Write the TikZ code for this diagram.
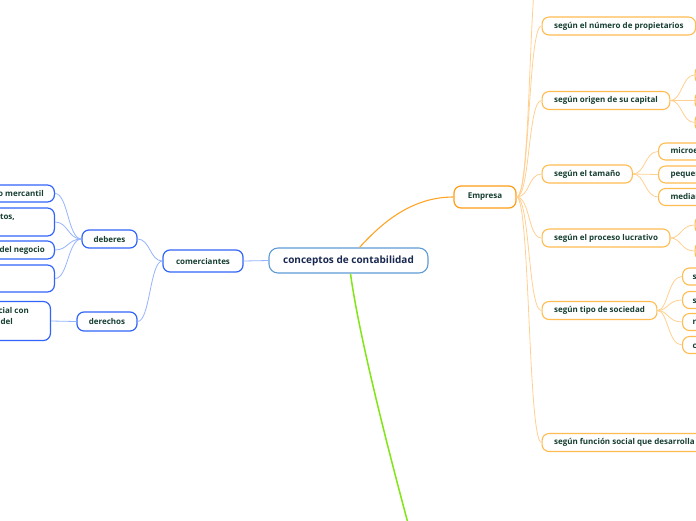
\documentclass[tikz,border=0pt]{standalone}
\usepackage{fontspec}
\setmainfont{Open Sans}
\definecolor{rootblue}{RGB}{95,155,212}
\definecolor{rootnavy}{RGB}{25,40,80}
\definecolor{bblue}{RGB}{50,100,250}
\definecolor{blinec}{RGB}{150,180,255}
\definecolor{dgreen}{RGB}{22,62,50}
\definecolor{orange1}{RGB}{255,158,20}
\definecolor{orange2}{RGB}{255,188,80}
\definecolor{olinec}{RGB}{255,208,145}
\definecolor{rootorange}{RGB}{255,165,40}
\definecolor{greenc}{RGB}{128,230,20}
\tikzset{
  rootn/.style={draw=rootblue, line width=1.1pt, rounded corners=9pt, fill=white, text=rootnavy,
    font=\bfseries\fontsize{10}{12}\selectfont, minimum height=25pt, minimum width=159pt, inner sep=0pt},
  bn/.style={draw=bblue, line width=1.2pt, rounded corners=7pt, fill=white, text=dgreen,
    font=\bfseries\fontsize{8}{9.5}\selectfont, inner sep=0pt},
  on1/.style={draw=orange1, line width=1.2pt, rounded corners=7pt, fill=white, text=dgreen,
    font=\bfseries\fontsize{8}{9.5}\selectfont, inner sep=0pt},
  on2/.style={draw=orange2, line width=1.1pt, rounded corners=7pt, fill=white, text=dgreen,
    font=\bfseries\fontsize{8}{9.5}\selectfont, inner xsep=12pt, inner ysep=0pt, minimum height=18pt, anchor=west},
  txt/.style={text=dgreen, font=\bfseries\fontsize{8}{9.5}\selectfont, inner sep=0pt},
  bline/.style={draw=blinec, line width=0.8pt},
  oline/.style={draw=olinec, line width=0.8pt}
}
\begin{document}
\begin{tikzpicture}[x=1pt,y=-1pt]
\path[use as bounding box] (0,0) rectangle (696,520);
\clip (0,0) rectangle (696,520);
\fill[white] (0,0) rectangle (696,520);

% ---- root ----
\node[rootn] (root) at (348.5,260.5) {conceptos de contabilidad};

% ---- blue branch ----
\node[bn, minimum width=80pt, minimum height=22pt] (com) at (203,261) {comerciantes};
\node[bn, minimum width=55pt, minimum height=18pt] (deb) at (109.5,239) {deberes};
\node[bn, minimum width=60pt, minimum height=19pt] (der) at (107,321.5) {derechos};

\node[bn, minimum width=140pt, minimum height=17pt, anchor=east] (l1) at (55,193.5) {};
\node[bn, minimum width=140pt, minimum height=28pt, anchor=east] (l2) at (55,222) {};
\node[bn, minimum width=140pt, minimum height=18pt, anchor=east] (l3) at (55,250) {};
\node[bn, minimum width=140pt, minimum height=27pt, anchor=east] (l4) at (55,278.5) {};
\node[bn, minimum width=140pt, minimum height=39pt, anchor=east] (r1) at (51,321) {};
\node[txt, anchor=east] (t1) at (44,193.5) {o mercantil};
\node[txt, anchor=east] (t2) at (15,217) {ctos,};
\node[txt, anchor=east] (t3) at (45,250) {del negocio};
\node[txt, anchor=east] (t5) at (29,310) {cial con};
\node[txt, anchor=east] (t6) at (13,321) {del};

\draw[bline] (root.west) -- (com.east);
\draw[bline] (com.west) .. controls (150,261) and (150,239) .. (deb.east);
\draw[bline] (com.west) .. controls (150,261) and (150,321.5) .. (der.east);
\foreach \n in {l1,l2,l3,l4}{
  \draw[bline] (deb.west) .. controls (68,239) and (68,239 |- \n.east) .. (\n.east);
}
\draw[bline] (der.west) -- (r1.east);

% ---- orange branch ----
\node[on1, minimum width=62pt, minimum height=22pt] (emp) at (485,197) {Empresa};
\coordinate (e0) at (541,-45);
\node[on2] (e1) at (541.5,26) {según el número de propietarios};
\node[on2] (e2) at (541.5,100.5) {según origen de su capital};
\node[on2] (e3) at (541.5,174) {según el tamaño};
\node[on2] (e4) at (541.5,238) {según el proceso lucrativo};
\node[on2] (e5) at (541.5,310.5) {según tipo de sociedad};
\node[on2] (e6) at (541.5,442.5) {según función social que desarrolla};

\draw[rootorange, line width=1.1pt] ([xshift=11pt]root.north) .. controls (380,225) and (410,197) .. (emp.west);

\draw[oline] (emp.east) .. controls (532,197) and (528,-45) .. (e0);
\foreach \n in {e1,e2,e3,e4,e5,e6}{
  \draw[oline] (emp.east) .. controls (530,197) and (528,0 |- \n.west) .. (\n.west);
}

% children of e1
\coordinate (e1c) at (722,4);
\draw[oline] (e1.east) .. controls (708,26) and (708,4) .. (e1c);

% children of e2
\node[on2, minimum width=60pt] (e21) at (694.5,75) {};
\node[on2, minimum width=60pt] (e22) at (694.5,100.5) {};
\node[on2, minimum width=60pt] (e23) at (694.5,122.5) {};
\foreach \n in {e21,e22,e23}{
  \draw[oline] (e2.east) .. controls (682,100.5) and (682,0 |- \n.west) .. (\n.west);
}

% children of e3
\node[on2, minimum height=17pt] (e31) at (658,151.5) {microempresa};
\node[on2, minimum height=17pt] (e32) at (658,174.5) {pequeña empresa};
\node[on2, minimum height=17pt] (e33) at (658,197) {mediana empresa};
\foreach \n in {e31,e32,e33}{
  \draw[oline] (e3.east) .. controls (645,174) and (645,0 |- \n.west) .. (\n.west);
}

% children of e4
\node[on2, minimum width=60pt] (e41) at (694.5,225) {};
\node[on2, minimum width=60pt] (e42) at (694.5,251) {};
\foreach \n in {e41,e42}{
  \draw[oline] (e4.east) .. controls (681,238) and (681,0 |- \n.west) .. (\n.west);
}

% children of e5
\node[on2, minimum height=17pt, inner xsep=10pt] (e51) at (682,276.5) {sociedad anónima};
\node[on2, minimum height=17pt, inner xsep=10pt] (e52) at (682,300) {sociedad colectiva};
\node[on2, minimum height=17pt, inner xsep=10pt] (e53) at (682,322) {responsabilidad limitada};
\node[on2, minimum height=17pt, inner xsep=10pt] (e54) at (682,345) {comandita};
\foreach \n in {e51,e52,e53,e54}{
  \draw[oline] (e5.east) .. controls (668,310.5) and (668,0 |- \n.west) .. (\n.west);
}

% ---- green branch ----
\coordinate (gend) at (418,560);
\draw[greenc, line width=1.5pt] ([xshift=2pt]root.south) .. controls (358,330) and (385,440) .. (gend);
\end{tikzpicture}
\end{document}
